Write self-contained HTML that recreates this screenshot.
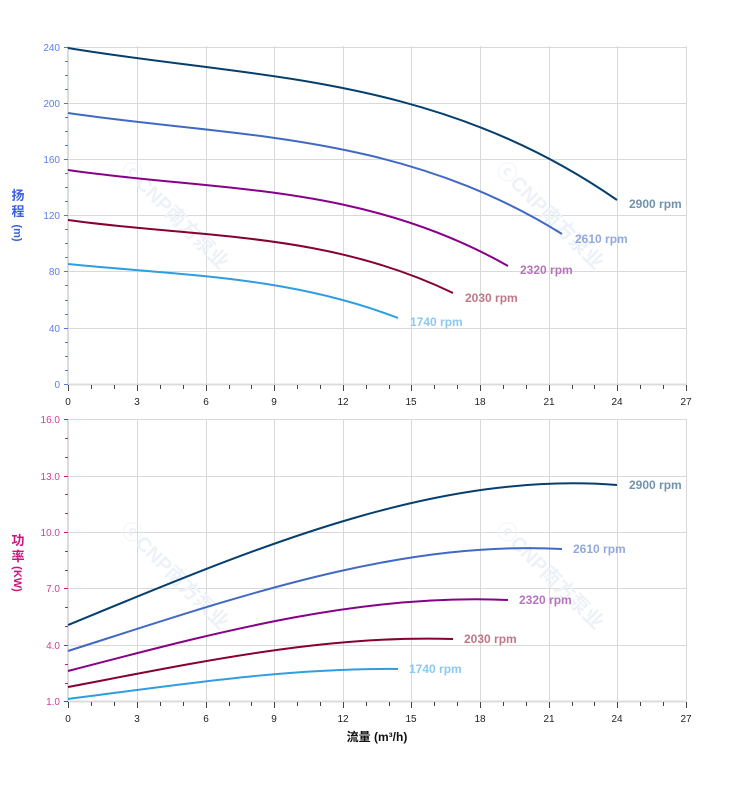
<!DOCTYPE html>
<html><head><meta charset="utf-8"><style>
body{margin:0;background:#fff;}
svg{display:block;font-family:"Liberation Sans","Noto Sans CJK SC",sans-serif;}
</style></head><body>
<svg width="752" height="797" viewBox="0 0 752 797">
<g stroke="#d9d9d9" stroke-width="1" fill="none">
<path d="M137.5 46V384M206.5 46V384M274.5 46V384M343.5 46V384M411.5 46V384M480.5 46V384M549.5 46V384M617.5 46V384M686.5 46V384"/>
<path d="M68 47.5H686M68 103.5H686M68 159.5H686M68 215.5H686M68 271.5H686M68 328.5H686"/>
<path d="M137.5 419V701M206.5 419V701M274.5 419V701M343.5 419V701M411.5 419V701M480.5 419V701M549.5 419V701M617.5 419V701M686.5 419V701"/>
<path d="M68 419.5H686M68 476.5H686M68 532.5H686M68 588.5H686M68 645.5H686"/>
</g>
<g stroke="#dcdcdc" stroke-width="2">
<path d="M68 46V385M67 384.5H687M68 419V702M67 701.5H687"/>
</g>
<g stroke="#4a78e8" stroke-width="1">
<path d="M64 47.5h4M64 103.5h4M64 159.5h4M64 215.5h4M64 271.5h4M64 328.5h4M64 384.5h4"/>
<path d="M65 61.5h3M65 75.5h3M65 89.5h3M65 117.5h3M65 131.5h3M65 145.5h3M65 173.5h3M65 187.5h3M65 201.5h3M65 229.5h3M65 243.5h3M65 257.5h3M65 285.5h3M65 300.5h3M65 314.5h3M65 342.5h3M65 356.5h3M65 370.5h3"/>
</g>
<g stroke="#c8187e" stroke-width="1">
<path d="M64 419.5h4M64 476.5h4M64 532.5h4M64 588.5h4M64 645.5h4M64 701.5h4"/>
<path d="M65 438.5h3M65 457.5h3M65 494.5h3M65 513.5h3M65 551.5h3M65 570.5h3M65 607.5h3M65 626.5h3M65 664.5h3M65 683.5h3"/>
</g>
<g stroke="#444" stroke-width="1" id="xt">
<path d="M68.5 385v6M91.5 385v4M114.5 385v4M137.5 385v6M160.5 385v4M183.5 385v4M206.5 385v6M229.5 385v4M251.5 385v4M274.5 385v6M297.5 385v4M320.5 385v4M343.5 385v6M366.5 385v4M389.5 385v4M411.5 385v6M434.5 385v4M457.5 385v4M480.5 385v6M503.5 385v4M526.5 385v4M549.5 385v6M572.5 385v4M594.5 385v4M617.5 385v6M640.5 385v4M663.5 385v4M686.5 385v6"/>
</g>
<use href="#xt" y="317"/>
<g font-size="10" fill="#222" text-anchor="middle">
<text x="68" y="405">0</text><text x="137" y="405">3</text><text x="206" y="405">6</text><text x="274" y="405">9</text><text x="343" y="405">12</text><text x="411" y="405">15</text><text x="480" y="405">18</text><text x="549" y="405">21</text><text x="617" y="405">24</text><text x="686" y="405">27</text>
<text x="68" y="722">0</text><text x="137" y="722">3</text><text x="206" y="722">6</text><text x="274" y="722">9</text><text x="343" y="722">12</text><text x="411" y="722">15</text><text x="480" y="722">18</text><text x="549" y="722">21</text><text x="617" y="722">24</text><text x="686" y="722">27</text>
</g>
<g font-size="10" fill="#5a7ff0" text-anchor="end">
<text x="60" y="51">240</text><text x="60" y="107">200</text><text x="60" y="163">160</text><text x="60" y="219">120</text><text x="60" y="275">80</text><text x="60" y="332">40</text><text x="60" y="388">0</text>
</g>
<g font-size="10" fill="#d0409a" text-anchor="end">
<text x="60" y="423">16.0</text><text x="60" y="480">13.0</text><text x="60" y="536">10.0</text><text x="60" y="592">7.0</text><text x="60" y="649">4.0</text><text x="60" y="705">1.0</text>
</g>
<g font-size="13" font-weight="bold" fill="#3a5fe0" text-anchor="middle">
<text x="18" y="200">扬</text><text x="18" y="216">程</text>
<text x="18" y="237" font-size="11" transform="rotate(90 18 233)">(m)</text>
</g>
<g font-size="13" font-weight="bold" fill="#c8187e" text-anchor="middle">
<text x="18" y="545">功</text><text x="18" y="561">率</text>
<text x="18" y="583" font-size="11" transform="rotate(90 18 579)">(KW)</text>
</g>
<text x="377" y="741" font-size="12" font-weight="bold" fill="#111" text-anchor="middle">流量 (m³/h)</text>
<g font-size="20" font-weight="bold" fill="#edf2f9">
<text x="120" y="170" transform="rotate(45 120 170)">ⓒCNP南方泵业</text>
<text x="495" y="170" transform="rotate(45 495 170)">ⓒCNP南方泵业</text>
<text x="120" y="530" transform="rotate(45 120 530)">ⓒCNP南方泵业</text>
<text x="495" y="530" transform="rotate(45 495 530)">ⓒCNP南方泵业</text>
</g>
<g fill="none" stroke-width="2" id="curves"></g>
<g font-size="12" font-weight="bold">
<text x="629" y="208" fill="#7193ab">2900 rpm</text>
<text x="575" y="243" fill="#93a9dc">2610 rpm</text>
<text x="520" y="274" fill="#b574bb">2320 rpm</text>
<text x="465" y="302" fill="#be7888">2030 rpm</text>
<text x="410" y="326" fill="#8cc9f0">1740 rpm</text>
<text x="629" y="489" fill="#7193ab">2900 rpm</text>
<text x="573" y="553" fill="#93a9dc">2610 rpm</text>
<text x="519" y="604" fill="#b574bb">2320 rpm</text>
<text x="464" y="643" fill="#be7888">2030 rpm</text>
<text x="409" y="673" fill="#8cc9f0">1740 rpm</text>
</g>
</svg>
<script>
var C=[
["#063f6e",[[68,48],[137,59],[206,67],[275,76],[343,88],[412,103],[480,128],[549,164],[617,200]]],
["#4169c4",[[68,113],[137,122],[206,129],[275,138],[343,150],[412,166],[480,190],[549,222],[562,234]]],
["#880088",[[68,170],[137,178],[206,185],[275,192],[343,204],[412,222],[480,250],[508,266]]],
["#870032",[[68,220],[137,228],[206,234],[275,241],[343,254],[412,272],[453,293]]],
["#2f9de0",[[68,264],[137,270],[206,276],[275,285],[343,299],[398,318]]],
["#063f6e",[[68,625],[137,597],[206,569],[275,543],[343,520],[412,502],[480,490],[549,484],[571,483],[617,485]]],
["#4169c4",[[68,651],[137,628],[206,607],[275,587],[343,570],[412,557],[480,549],[520,547],[562,549]]],
["#880088",[[68,671],[137,653],[206,636],[275,621],[343,609],[412,601],[470,598],[508,600]]],
["#870032",[[68,687],[137,674],[206,661],[275,650],[343,642],[412,638],[453,639]]],
["#2f9de0",[[68,699],[137,690],[206,681],[275,674],[343,669],[398,669]]]];
function at(p,x){for(var i=1;i<p.length;i++){if(x<=p[i][0]){var a=p[i-1],b=p[i];return a[1]+(b[1]-a[1])*(x-a[0])/(b[0]-a[0]);}}return p[p.length-1][1];}
var g=document.getElementById('curves'),h='';
C.forEach(function(c){var p=c[1],x0=p[0][0],x3=p[p.length-1][0],y0=p[0][1],y3=p[p.length-1][1];
var x1=x0+(x3-x0)/3,x2=x0+2*(x3-x0)/3,Y1=at(p,x1),Y2=at(p,x2);
var A=27*Y1-8*y0-y3,B=27*Y2-y0-8*y3,c1=(2*A-B)/18,c2=(2*B-A)/18;
h+='<path stroke="'+c[0]+'" d="M'+x0+','+y0+' C'+x1.toFixed(1)+','+c1.toFixed(1)+' '+x2.toFixed(1)+','+c2.toFixed(1)+' '+x3+','+y3+'"/>';});
g.innerHTML=h;
</script>
</body></html>
